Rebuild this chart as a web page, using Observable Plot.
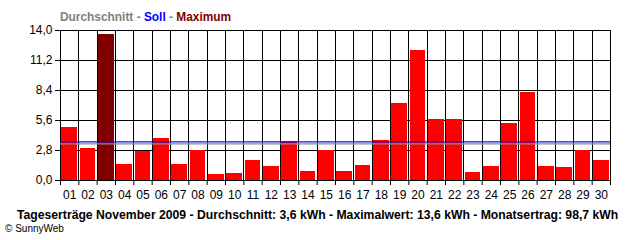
<!DOCTYPE html>
<html>
<head>
<meta charset="utf-8">
<script src="https://cdn.jsdelivr.net/npm/d3@7"></script>
<script src="https://cdn.jsdelivr.net/npm/@observablehq/plot@0.6"></script>
<style>
  html, body { margin: 0; padding: 0; background: #fff; }
  #wrap { position: relative; width: 640px; height: 240px; overflow: hidden; }
  #legend { position: absolute; left: 60px; top: 10px; font: bold 11.9px "Liberation Sans", Arial, sans-serif; white-space: nowrap; }
  #caption { position: absolute; left: 17px; top: 208px; font: bold 12.2px "Liberation Sans", Arial, sans-serif; white-space: nowrap; }
  #copy { position: absolute; left: 5px; top: 223px; font: 10px "Liberation Sans", Arial, sans-serif; white-space: nowrap; }
  svg text { font-family: "Liberation Sans", Arial, sans-serif; }
</style>
</head>
<body>
<div id="wrap">
  <div id="chart"></div>
  <div id="legend"><span style="color:#808080">Durchschnitt</span><span style="color:#808080"> - </span><span style="color:#0000ff">Soll</span><span style="color:#808080"> - </span><span style="color:#800000">Maximum</span></div>
  <div id="caption">Tageserträge November 2009 - Durchschnitt: 3,6 kWh - Maximalwert: 13,6 kWh - Monatsertrag: 98,7 kWh</div>
  <div id="copy">© SunnyWeb</div>
</div>
<script>
const days = ["01","02","03","04","05","06","07","08","09","10","11","12","13","14","15","16","17","18","19","20","21","22","23","24","25","26","27","28","29","30"];
const values = [4.92,2.99,13.6,1.52,2.74,3.95,1.52,2.83,0.59,0.68,1.9,1.34,3.61,0.87,2.83,0.87,1.43,3.76,7.22,12.16,5.72,5.72,0.78,1.34,5.35,8.24,1.34,1.24,2.83,1.9];
const yTicks = [0, 2.8, 5.6, 8.4, 11.2, 14.0];
const averageLine = [3.42];
const sollLine = [3.61];

const data = days.map((d, i) => ({pos: i + 1, label: d, v: values[i]}));
const maxV = d3.max(values);
const boundaries = d3.range(0, days.length + 1).map(i => i + 0.5);
const fmt = d => d.toFixed(1).replace(".", ",");

const chart = Plot.plot({
  width: 640,
  height: 240,
  marginTop: 30,
  marginBottom: 60,
  marginLeft: 60,
  marginRight: 30,
  style: {fontSize: "12px", fontFamily: "Liberation Sans, Arial, sans-serif", color: "#000", background: "#fff"},
  x: {type: "linear", domain: [0.5, days.length + 0.5]},
  y: {domain: [0, 14]},
  marks: [
    Plot.ruleY(yTicks, {stroke: "#000", strokeWidth: 1, shapeRendering: "crispEdges"}),
    Plot.ruleX(boundaries, {y1: 0, y2: 14, stroke: "#000", strokeWidth: 1, shapeRendering: "crispEdges"}),
    Plot.rectY(data, {
      x1: d => d.pos - 0.5, x2: d => d.pos + 0.5, y: "v",
      insetLeft: 1.2, insetRight: 1.2,
      fill: d => d.v === maxV ? "#800000" : "#ff0000",
      shapeRendering: "crispEdges"
    }),
    Plot.ruleY(averageLine, {stroke: "#8c8c8c", strokeWidth: 1.3}),
    Plot.ruleY(sollLine, {stroke: "#1010e0", strokeWidth: 1.3}),
    Plot.ruleY([0], {stroke: "#000", strokeWidth: 1, shapeRendering: "crispEdges"}),
    Plot.axisY({ticks: yTicks, tickFormat: fmt, tickSize: 5, tickPadding: 3, label: null, stroke: "#000", fontSize: 12}),
    Plot.axisX({ticks: boundaries, tickFormat: () => "", tickSize: 5, label: null}),
    Plot.axisX({ticks: data.map(d => d.pos), tickFormat: p => days[p - 1], tickSize: 0, tickPadding: 10, label: null, fontSize: 12})
  ]
});
document.getElementById("chart").appendChild(chart);
</script>
</body>
</html>
